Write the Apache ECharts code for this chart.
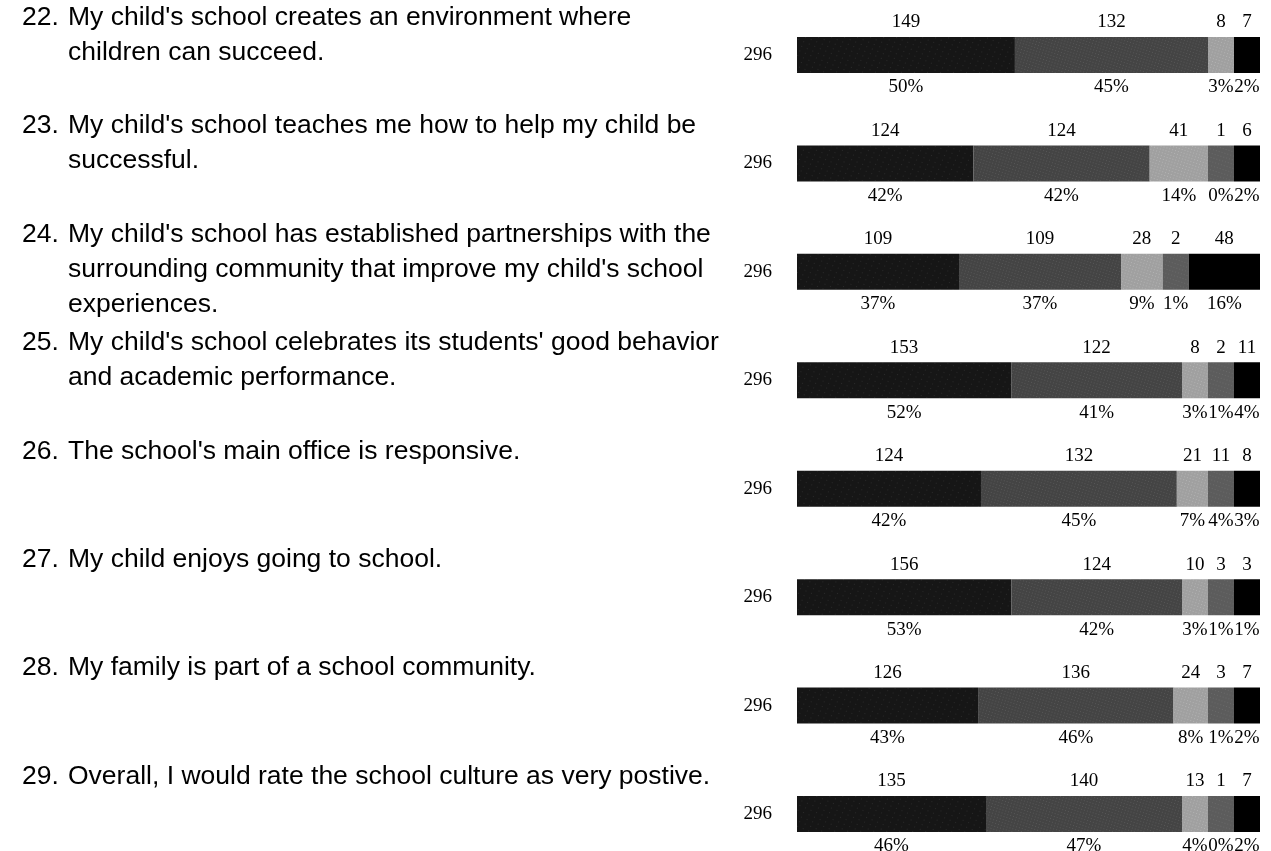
<!DOCTYPE html>
<html>
<head>
<meta charset="utf-8">
<script src="https://cdn.jsdelivr.net/npm/echarts@6/dist/echarts.min.js"></script>
<style>html,body{margin:0;padding:0;background:#fff}#c{width:1271px;height:851px}</style>
</head>
<body>
<div id="c"></div>
<script>
// ---- data ----
const qNums = ['22.', '23.', '24.', '25.', '26.', '27.', '28.', '29.'];
const questions = [
  ["My child's school creates an environment where", "children can succeed."],
  ["My child's school teaches me how to help my child be", "successful."],
  ["My child's school has established partnerships with the", "surrounding community that improve my child's school", "experiences."],
  ["My child's school celebrates its students' good behavior", "and academic performance."],
  ["The school's main office is responsive."],
  ["My child enjoys going to school."],
  ["My family is part of a school community."],
  ["Overall, I would rate the school culture as very postive."]
];
const respondents = [296, 296, 296, 296, 296, 296, 296, 296];
const strongAgree    = [149, 124, 109, 153, 124, 156, 126, 135];
const agree          = [132, 124, 109, 122, 132, 124, 136, 140];
const disagree       = [8, 41, 28, 8, 21, 10, 24, 13];
const strongDisagree = [0, 1, 2, 2, 11, 3, 3, 1];
const dontKnow       = [7, 6, 48, 11, 8, 3, 7, 7];
const seriesNames = ['Strongly Agree', 'Agree', 'Disagree', 'Strongly Disagree', 'Not Sure'];
const seriesCounts = [strongAgree, agree, disagree, strongDisagree, dontKnow];

// ---- display rule of the original: tiny segments get a minimum length so their labels fit ----
const PLOT_W = 463, MIN_PX = 26;
const displayVals = seriesCounts.map(() => []);
respondents.forEach((T, i) => {
  const minVal = T * MIN_PX / PLOT_W;
  const vals = seriesCounts.map(s => s[i]);
  let nSmall = 0, bigSum = 0;
  vals.forEach(v => { if (v > 0 && v < minVal) nSmall++; else bigSum += v; });
  const k = (T - nSmall * minVal) / bigSum;
  vals.forEach((v, j) => {
    displayVals[j][i] = v === 0 ? 0 : (v < minVal ? minVal : v * k);
  });
});

const fills = ['#161616', '#444444', '#a0a0a0', '#5c5c5c', '#000000'];
const decals = [
  {symbol: 'rect', symbolSize: 0.6, color: 'rgba(255,255,255,0.28)', dashArrayX: [1, 5], dashArrayY: [1, 4], rotation: 0.4},
  {symbol: 'rect', symbolSize: 0.7, color: 'rgba(220,220,220,0.35)', dashArrayX: [1, 2], dashArrayY: [1, 2], rotation: 0.3},
  {symbol: 'rect', symbolSize: 0.7, color: 'rgba(255,255,255,0.55)', dashArrayX: [1, 2], dashArrayY: [1, 2], rotation: 0.3},
  {symbol: 'rect', symbolSize: 0.7, color: 'rgba(200,200,200,0.35)', dashArrayX: [1, 2], dashArrayY: [1, 3], rotation: 0.3},
  {symbol: 'rect', symbolSize: 0.5, color: 'rgba(0,0,0,0)', dashArrayX: [1, 2], dashArrayY: [1, 2]}
];

const serif = "'Liberation Serif', 'Times New Roman', serif";
const sans = "'Liberation Sans', Arial, sans-serif";

const chart = echarts.init(document.getElementById('c'), null, {renderer: 'canvas'});
const series = seriesNames.map((name, j) => ({
  name: name,
  type: 'bar',
  stack: 'total',
  barWidth: 36,
  yAxisIndex: 0,
  clip: false,
  itemStyle: {color: fills[j], decal: decals[j]},
  label: {
    show: true,
    position: 'inside',
    formatter: p => {
      const v = seriesCounts[j][p.dataIndex];
      if (!v) return '';
      const pct = Math.round(v / respondents[p.dataIndex] * 100);
      return '{c|' + v + '}\n{g| }\n{c|' + pct + '%}';
    },
    rich: {
      c: {fontFamily: serif, fontSize: 19, lineHeight: 20, color: '#000'},
      g: {fontSize: 10, lineHeight: 45, color: '#000'}
    }
  },
  emphasis: {disabled: true},
  data: displayVals[j]
}));

chart.setOption({
  animation: false,
  aria: {enabled: true, decal: {show: true}},
  grid: {left: 797, right: 11, top: 55, bottom: 37, containLabel: false, outerBoundsMode: 'none'},
  xAxis: {type: 'value', min: 0, max: 296, show: false},
  yAxis: [
    {
      type: 'category', inverse: true, boundaryGap: false, data: qNums,
      axisLine: {show: false}, axisTick: {show: false}, splitLine: {show: false},
      axisLabel: {
        interval: 0, align: 'left', margin: 775,
        formatter: (val, idx) => {
          const lines = questions[idx];
          let s = '{n|' + qNums[idx] + '}{t|' + lines[0] + '}';
          for (let k = 1; k < lines.length; k++) s += '\n{tc|' + lines[k] + '}';
          s += '\n{s' + lines.length + '| }';
          return s;
        },
        rich: {
          n: {fontFamily: sans, fontSize: 26.5, lineHeight: 35, width: 46, color: '#000'},
          t: {fontFamily: sans, fontSize: 26.5, lineHeight: 35, color: '#000'},
          tc: {fontFamily: sans, fontSize: 26.5, lineHeight: 35, color: '#000', padding: [0, 0, 0, 46]},
          s1: {fontSize: 4, lineHeight: 75},
          s2: {fontSize: 4, lineHeight: 40},
          s3: {fontSize: 4, lineHeight: 5}
        }
      }
    },
    {
      type: 'category', inverse: true, boundaryGap: false, position: 'left',
      data: respondents.map(String),
      axisLine: {show: false}, axisTick: {show: false}, splitLine: {show: false},
      axisLabel: {interval: 0, margin: 25, fontFamily: serif, fontSize: 19, color: '#000', padding: [0, 0, 10, 0]}
    }
  ],
  series: series
});
</script>
</body>
</html>
